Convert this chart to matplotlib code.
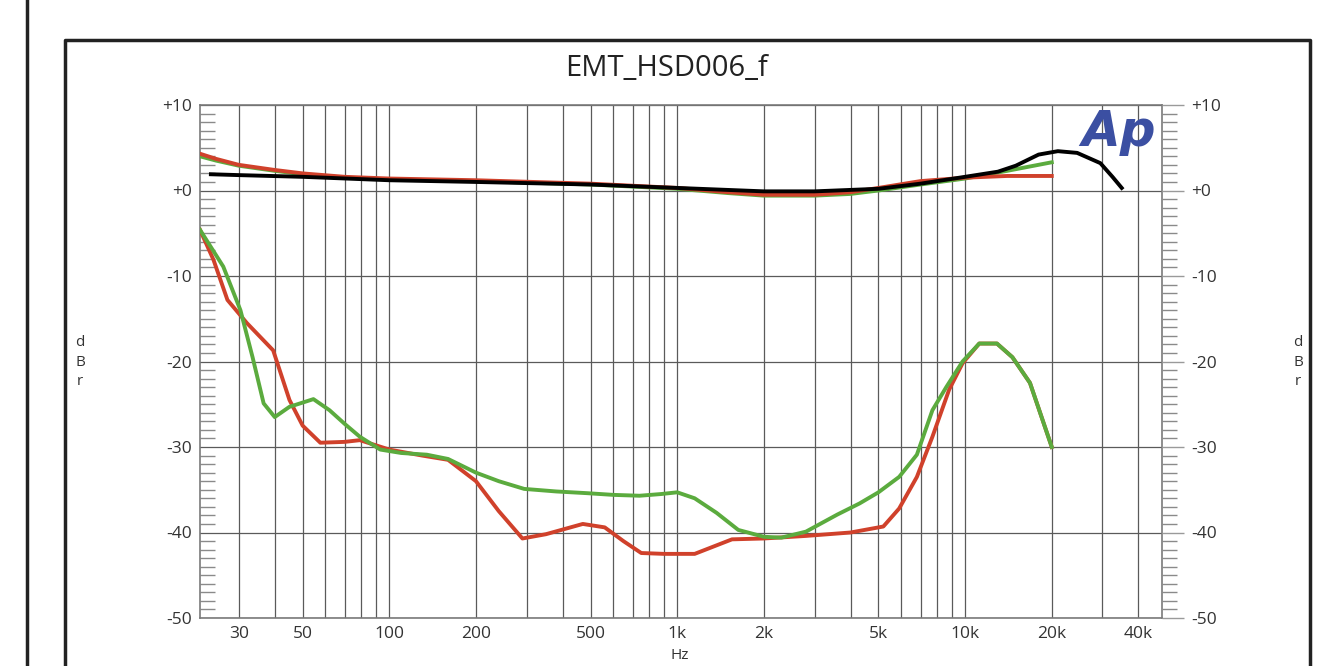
import numpy as np
import matplotlib.pyplot as plt
from matplotlib.ticker import FixedLocator, MultipleLocator, NullFormatter
from matplotlib.lines import Line2D

plt.rcParams['font.family'] = ['Open Sans', 'DejaVu Sans']

# upper traces (level, dBr)
top_freq = [22, 25, 30, 40, 50, 70, 100, 200, 500, 1000, 1500, 2000, 3000,
            4000, 5000, 7000, 10000, 14000, 20000]
top_red = [4.3, 3.7, 3.0, 2.4, 2.0, 1.6, 1.4, 1.2, 0.8, 0.3, -0.2, -0.5, -0.5,
           -0.2, 0.3, 1.1, 1.5, 1.7, 1.7]
top_green = [4.0, 3.5, 2.9, 2.3, 1.9, 1.5, 1.3, 1.1, 0.7, 0.2, -0.3, -0.6, -0.6,
             -0.4, 0.0, 0.7, 1.4, 2.3, 3.3]

black_freq = [24, 30, 50, 100, 200, 500, 1000, 2000, 3000, 5000, 7000, 10000,
              13000, 15000, 18000, 21000, 24500, 29500, 32500, 35000]
black = [1.9, 1.8, 1.6, 1.2, 1.0, 0.7, 0.3, -0.1, -0.1, 0.2, 0.8, 1.6,
         2.2, 2.9, 4.2, 4.6, 4.4, 3.2, 1.6, 0.3]

# lower traces (crosstalk)
low_red_freq = [22, 24.5, 27.4, 32, 39.5, 45, 50, 57.6, 70, 79, 100, 130, 160,
                200, 240, 290, 350, 470, 560, 650, 750, 900, 1150, 1550, 2000,
                2800, 4000, 5200, 5900, 6800, 7700, 8800, 9800, 11200, 12900,
                14600, 16800, 20000]
low_red = [-4.6, -8.1, -12.8, -15.5, -18.7, -24.5, -27.5, -29.5, -29.4, -29.2,
           -30.3, -31.0, -31.5, -34.0, -37.5, -40.7, -40.2, -39.0, -39.4, -41.0,
           -42.4, -42.5, -42.5, -40.8, -40.7, -40.4, -40.0, -39.3, -37.2, -33.5,
           -28.8, -23.3, -20.2, -17.9, -17.9, -19.5, -22.5, -30.0]

low_green_freq = [22, 26.5, 30.4, 33.5, 36.6, 40, 45, 54.5, 62, 70, 79, 93, 110,
                  135, 160, 200, 240, 294, 380, 486, 600, 740, 880, 1000, 1150,
                  1370, 1630, 2000, 2300, 2800, 3600, 4300, 5000, 5900, 6800,
                  7700, 8600, 9800, 11200, 12900, 14600, 16800, 20000]
low_green = [-4.6, -8.9, -14.0, -19.5, -24.9, -26.5, -25.3, -24.4, -25.7, -27.3,
             -28.8, -30.3, -30.7, -30.9, -31.4, -33.0, -34.0, -34.9, -35.2, -35.4,
             -35.6, -35.7, -35.5, -35.3, -36.0, -37.7, -39.7, -40.5, -40.6, -39.9,
             -37.9, -36.6, -35.3, -33.5, -30.9, -25.7, -23.0, -20.0, -17.9, -17.9,
             -19.5, -22.5, -30.0]

xtick_pos = [30, 50, 100, 200, 500, 1000, 2000, 5000, 10000, 20000, 40000]
xtick_lab = ['30', '50', '100', '200', '500', '1k', '2k', '5k', '10k', '20k', '40k']
ytick_pos = [10, 0, -10, -20, -30, -40, -50]
ytick_lab = ['+10', '+0', '-10', '-20', '-30', '-40', '-50']

RED = '#d0412b'
GREEN = '#5bab3e'
GRID = '#5a5a5a'

W, H = 1342, 666
fig = plt.figure(figsize=(W / 100, H / 100), dpi=100)


def fx(x):
    return x / W


def fy(y):
    return 1 - y / H


ax = fig.add_axes([fx(200), fy(618), fx(1162) - fx(200), fy(105) - fy(618)])
ax.set_xscale('log')
ax.set_xlim(22, 48300)
ax.set_ylim(-50, 10)

minor_x = [m * 10 ** d for d in range(1, 5) for m in range(1, 10)]
minor_x = [v for v in minor_x if 22 < v < 48300]
ax.xaxis.set_minor_locator(FixedLocator(minor_x))
ax.xaxis.set_minor_formatter(NullFormatter())
ax.set_xticks(xtick_pos)
ax.set_xticklabels(xtick_lab)
ax.tick_params(axis='x', which='both', length=0, pad=6, labelsize=12.5,
               labelcolor='#333333')
ax.grid(True, axis='x', which='both', color=GRID, lw=0.9)

ax.set_yticks(ytick_pos)
ax.set_yticklabels(ytick_lab)
ax.yaxis.set_minor_locator(MultipleLocator(1))
ax.tick_params(axis='y', which='major', length=0, pad=6, labelsize=12.5,
               labelcolor='#333333')
ax.tick_params(axis='y', which='minor', direction='in', length=11,
               color='#8a8a8a', width=1)
ax.grid(True, axis='y', which='major', color=GRID, lw=0.9)

for s in ax.spines.values():
    s.set_color('#7a7a7a')
    s.set_linewidth(1.2)

ax2 = ax.twinx()
ax2.set_ylim(-50, 10)
ax2.set_yticks(ytick_pos)
ax2.set_yticklabels(ytick_lab)
ax2.yaxis.set_minor_locator(MultipleLocator(1))
ax2.tick_params(axis='y', which='major', direction='out', length=16,
                color='#9a9a9a', width=1, pad=5, labelsize=12.5,
                labelcolor='#333333')
ax2.tick_params(axis='y', which='minor', direction='out', length=11,
                color='#8a8a8a', width=1)
for s in ax2.spines.values():
    s.set_visible(False)

ax.plot(low_red_freq, low_red, color=RED, lw=2.8, zorder=3,
        solid_joinstyle='round')
ax.plot(low_green_freq, low_green, color=GREEN, lw=2.8, zorder=3,
        solid_joinstyle='round')
ax.plot(top_freq, top_green, color=GREEN, lw=2.8, zorder=3,
        solid_joinstyle='round')
ax.plot(top_freq, top_red, color=RED, lw=2.8, zorder=4,
        solid_joinstyle='round')
ax.plot(black_freq, black, color='black', lw=2.8, zorder=5,
        solid_joinstyle='round')

fig.text(fx(1156), fy(108), 'Ap', ha='right', va='top', fontsize=36,
         fontweight='bold', fontstyle='italic', color='#3b4fa2',
         family='DejaVu Sans')

fig.text(fx(666), fy(69), 'EMT_HSD006_f', ha='center', va='center',
         fontsize=21, color='#222222')
fig.text(fx(80), fy(362), 'd\nB\nr', ha='center', va='center', fontsize=11,
         color='#333333', linespacing=1.45)
fig.text(fx(1298), fy(362), 'd\nB\nr', ha='center', va='center', fontsize=11,
         color='#333333', linespacing=1.45)
fig.text(fx(680), fy(648), 'Hz', ha='center', va='top', fontsize=11,
         color='#333333')

# page frames
fig.add_artist(Line2D([fx(27), fx(27)], [0, 1], color='#222222', lw=2.5))
fig.add_artist(Line2D([fx(65), fx(65), fx(1310), fx(1310)],
                      [-0.05, fy(40), fy(40), -0.05], color='#222222', lw=2.5))

fig.savefig('out.png', dpi=100)
